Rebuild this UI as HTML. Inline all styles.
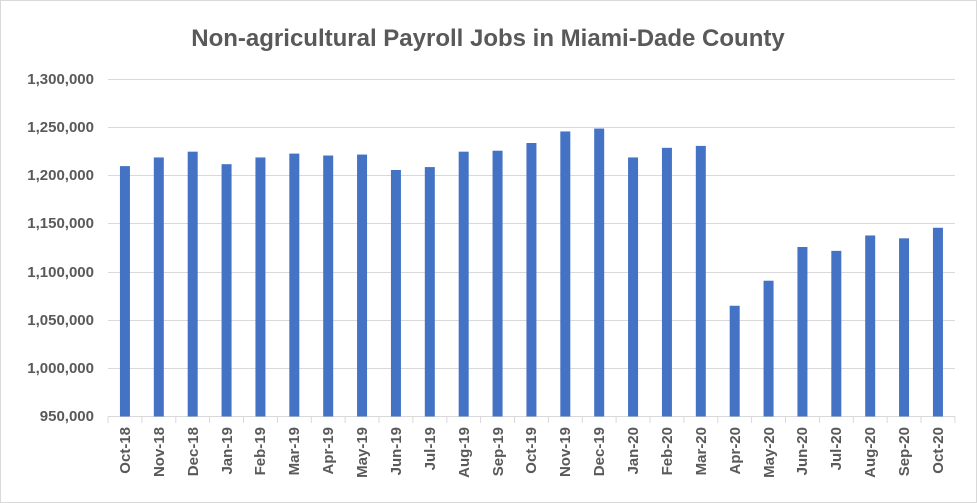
<!DOCTYPE html>
<html><head><style>
body{margin:0;background:#fff}
svg{display:block;font-family:"Liberation Sans",sans-serif}
</style></head><body>
<svg width="977" height="503" xmlns="http://www.w3.org/2000/svg">
<rect x="0.5" y="0.5" width="976" height="502" fill="#fff" stroke="#d9d9d9"/>
<text x="488" y="46" text-anchor="middle" font-size="24" font-weight="bold" fill="#595959">Non-agricultural Payroll Jobs in Miami-Dade County</text>
<g stroke="#d9d9d9" stroke-width="1">
<line x1="108" x2="955" y1="79.5" y2="79.5"/><line x1="108" x2="955" y1="127.5" y2="127.5"/>
<line x1="108" x2="955" y1="175.5" y2="175.5"/><line x1="108" x2="955" y1="223.5" y2="223.5"/>
<line x1="108" x2="955" y1="272.5" y2="272.5"/><line x1="108" x2="955" y1="320.5" y2="320.5"/>
<line x1="108" x2="955" y1="368.5" y2="368.5"/><line x1="108" x2="955" y1="416.5" y2="416.5"/>
</g>
<g font-size="15" fill="#595959" text-anchor="end" font-weight="bold">
<text x="94" y="84">1,300,000</text><text x="94" y="132">1,250,000</text><text x="94" y="180">1,200,000</text>
<text x="94" y="228">1,150,000</text><text x="94" y="277">1,100,000</text><text x="94" y="325">1,050,000</text>
<text x="94" y="373">1,000,000</text><text x="94" y="421">950,000</text>
</g>
<g fill="#4472c4">
<rect x="119.94" y="166.12" width="10" height="250.38"/>
<rect x="153.81" y="157.45" width="10" height="259.05"/>
<rect x="187.69" y="151.67" width="10" height="264.83"/>
<rect x="221.56" y="164.19" width="10" height="252.31"/>
<rect x="255.44" y="157.45" width="10" height="259.05"/>
<rect x="289.31" y="153.60" width="10" height="262.90"/>
<rect x="323.19" y="155.53" width="10" height="260.97"/>
<rect x="357.06" y="154.56" width="10" height="261.94"/>
<rect x="390.94" y="169.97" width="10" height="246.53"/>
<rect x="424.81" y="167.08" width="10" height="249.42"/>
<rect x="458.69" y="151.67" width="10" height="264.83"/>
<rect x="492.56" y="150.71" width="10" height="265.79"/>
<rect x="526.44" y="143.01" width="10" height="273.49"/>
<rect x="560.31" y="131.45" width="10" height="285.05"/>
<rect x="594.19" y="128.56" width="10" height="287.94"/>
<rect x="628.06" y="157.45" width="10" height="259.05"/>
<rect x="661.94" y="147.82" width="10" height="268.68"/>
<rect x="695.81" y="145.90" width="10" height="270.60"/>
<rect x="729.69" y="305.75" width="10" height="110.75"/>
<rect x="763.56" y="280.72" width="10" height="135.78"/>
<rect x="797.44" y="247.01" width="10" height="169.49"/>
<rect x="831.31" y="250.86" width="10" height="165.64"/>
<rect x="865.19" y="235.46" width="10" height="181.04"/>
<rect x="899.06" y="238.34" width="10" height="178.16"/>
<rect x="932.94" y="227.75" width="10" height="188.75"/>
</g>
<g stroke="#d9d9d9">
<line x1="108" x2="108" y1="416.5" y2="423"/><line x1="141.9" x2="141.9" y1="416.5" y2="423"/>
<line x1="175.8" x2="175.8" y1="416.5" y2="423"/><line x1="209.6" x2="209.6" y1="416.5" y2="423"/>
<line x1="243.5" x2="243.5" y1="416.5" y2="423"/><line x1="277.4" x2="277.4" y1="416.5" y2="423"/>
<line x1="311.3" x2="311.3" y1="416.5" y2="423"/><line x1="345.1" x2="345.1" y1="416.5" y2="423"/>
<line x1="379" x2="379" y1="416.5" y2="423"/><line x1="412.9" x2="412.9" y1="416.5" y2="423"/>
<line x1="446.8" x2="446.8" y1="416.5" y2="423"/><line x1="480.6" x2="480.6" y1="416.5" y2="423"/>
<line x1="514.5" x2="514.5" y1="416.5" y2="423"/><line x1="548.4" x2="548.4" y1="416.5" y2="423"/>
<line x1="582.3" x2="582.3" y1="416.5" y2="423"/><line x1="616.1" x2="616.1" y1="416.5" y2="423"/>
<line x1="650" x2="650" y1="416.5" y2="423"/><line x1="683.9" x2="683.9" y1="416.5" y2="423"/>
<line x1="717.8" x2="717.8" y1="416.5" y2="423"/><line x1="751.6" x2="751.6" y1="416.5" y2="423"/>
<line x1="785.5" x2="785.5" y1="416.5" y2="423"/><line x1="819.4" x2="819.4" y1="416.5" y2="423"/>
<line x1="853.3" x2="853.3" y1="416.5" y2="423"/><line x1="887.1" x2="887.1" y1="416.5" y2="423"/>
<line x1="921" x2="921" y1="416.5" y2="423"/><line x1="954.9" x2="954.9" y1="416.5" y2="423"/>
</g>
<g font-size="15" fill="#595959" font-weight="bold" text-anchor="end">
<text transform="translate(130,427) rotate(-90)">Oct-18</text>
<text transform="translate(164,427) rotate(-90)">Nov-18</text>
<text transform="translate(198,427) rotate(-90)">Dec-18</text>
<text transform="translate(232,427) rotate(-90)">Jan-19</text>
<text transform="translate(265,427) rotate(-90)">Feb-19</text>
<text transform="translate(299,427) rotate(-90)">Mar-19</text>
<text transform="translate(333,427) rotate(-90)">Apr-19</text>
<text transform="translate(367,427) rotate(-90)">May-19</text>
<text transform="translate(401,427) rotate(-90)">Jun-19</text>
<text transform="translate(435,427) rotate(-90)">Jul-19</text>
<text transform="translate(469,427) rotate(-90)">Aug-19</text>
<text transform="translate(503,427) rotate(-90)">Sep-19</text>
<text transform="translate(536,427) rotate(-90)">Oct-19</text>
<text transform="translate(570,427) rotate(-90)">Nov-19</text>
<text transform="translate(604,427) rotate(-90)">Dec-19</text>
<text transform="translate(638,427) rotate(-90)">Jan-20</text>
<text transform="translate(672,427) rotate(-90)">Feb-20</text>
<text transform="translate(706,427) rotate(-90)">Mar-20</text>
<text transform="translate(740,427) rotate(-90)">Apr-20</text>
<text transform="translate(774,427) rotate(-90)">May-20</text>
<text transform="translate(807,427) rotate(-90)">Jun-20</text>
<text transform="translate(841,427) rotate(-90)">Jul-20</text>
<text transform="translate(875,427) rotate(-90)">Aug-20</text>
<text transform="translate(909,427) rotate(-90)">Sep-20</text>
<text transform="translate(943,427) rotate(-90)">Oct-20</text>
</g>
</svg>
</body></html>
